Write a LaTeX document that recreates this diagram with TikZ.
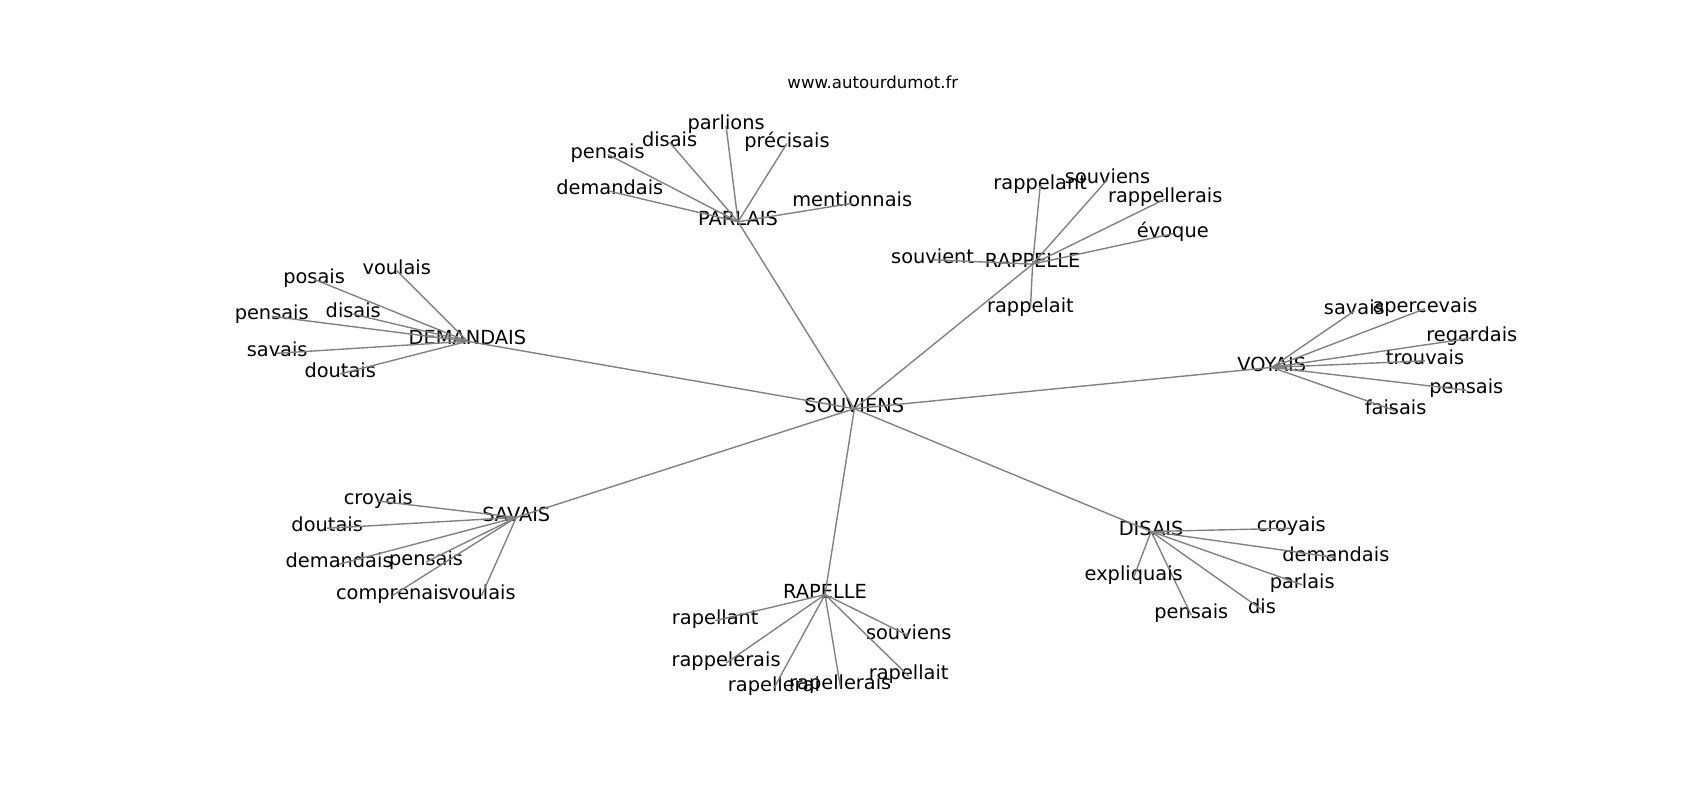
\documentclass[tikz,border=0pt]{standalone}
\usepackage{fontspec}
\setmainfont{DejaVu Sans}
\usetikzlibrary{positioning}

\begin{document}
\begin{tikzpicture}[x=0.02761cm,y=-0.02761cm,
  word/.style={inner sep=0pt,text height=0.76em,text depth=0.23em,font=\fontsize{14}{16}\selectfont},
  link/.style={draw=black!50,line width=1pt}]
\useasboundingbox (0,0) rectangle (1564,736);
\node[inner sep=0pt,font=\fontsize{12}{14}\selectfont] (site) at (803,76) {www.autourdumot.fr};
% hubs
\foreach \n/\x/\y/\t in {souviens/786/376/SOUVIENS, parlais/679/204/PARLAIS, rappelle/950/243/RAPPELLE,
  demandais/430/314/DEMANDAIS, voyais/1170/338/VOYAIS, savais/475/476/SAVAIS,
  rapelle/759/547/RAPELLE, disais/1059/489/DISAIS}
{
    \node[word] (\n) at (\x,\y) {\t};
}
\foreach \h in {parlais,rappelle,demandais,voyais,savais,rapelle,disais} {
    \draw[link] (souviens.center) -- (\h.center);
}
% leaves
\foreach \p/\n/\x/\y/\t in {
  parlais/pa1/668/116/parlions, parlais/pa2/616/131/disais, parlais/pa3/724/132/précisais,
  parlais/pa4/559/142/pensais, parlais/pa5/561/176/demandais, parlais/pa6/784/187/mentionnais,
  rappelle/rp1/957/171/rappelant, rappelle/rp2/1019/165/souviens, rappelle/rp3/1072/183/rappellerais,
  rappelle/rp4/1079/215/évoque, rappelle/rp5/858/239/souvient, rappelle/rp6/948/284/rappelait,
  demandais/de1/365/249/voulais, demandais/de2/289/257/posais, demandais/de3/250/291/pensais,
  demandais/de4/325/289/disais, demandais/de5/255/325/savais, demandais/de6/313/344/doutais,
  voyais/vo1/1246/286/savais, voyais/vo2/1311/284/apercevais, voyais/vo3/1354/311/regardais,
  voyais/vo4/1311/332/trouvais, voyais/vo5/1349/359/pensais, voyais/vo6/1284/378/faisais,
  savais/sa1/348/461/croyais, savais/sa2/301/486/doutais, savais/sa3/312/519/demandais,
  savais/sa4/392/517/pensais, savais/sa5/361/548/comprenais, savais/sa6/443/548/voulais,
  rapelle/ra1/658/571/rapellant, rapelle/ra2/668/610/rappelerais, rapelle/ra3/712/633/rapellerai,
  rapelle/ra4/773/631/rapellerais, rapelle/ra5/836/585/souviens, rapelle/ra6/836/622/rapellait,
  disais/di1/1188/486/croyais, disais/di2/1229/513/demandais, disais/di3/1198/538/parlais,
  disais/di4/1161/561/dis, disais/di5/1096/566/pensais, disais/di6/1043/531/expliquais}
{
    \node[word] (\n) at (\x,\y) {\t};
    \draw[link] (\p.center) -- (\n.center);
}
\end{tikzpicture}
\end{document}
